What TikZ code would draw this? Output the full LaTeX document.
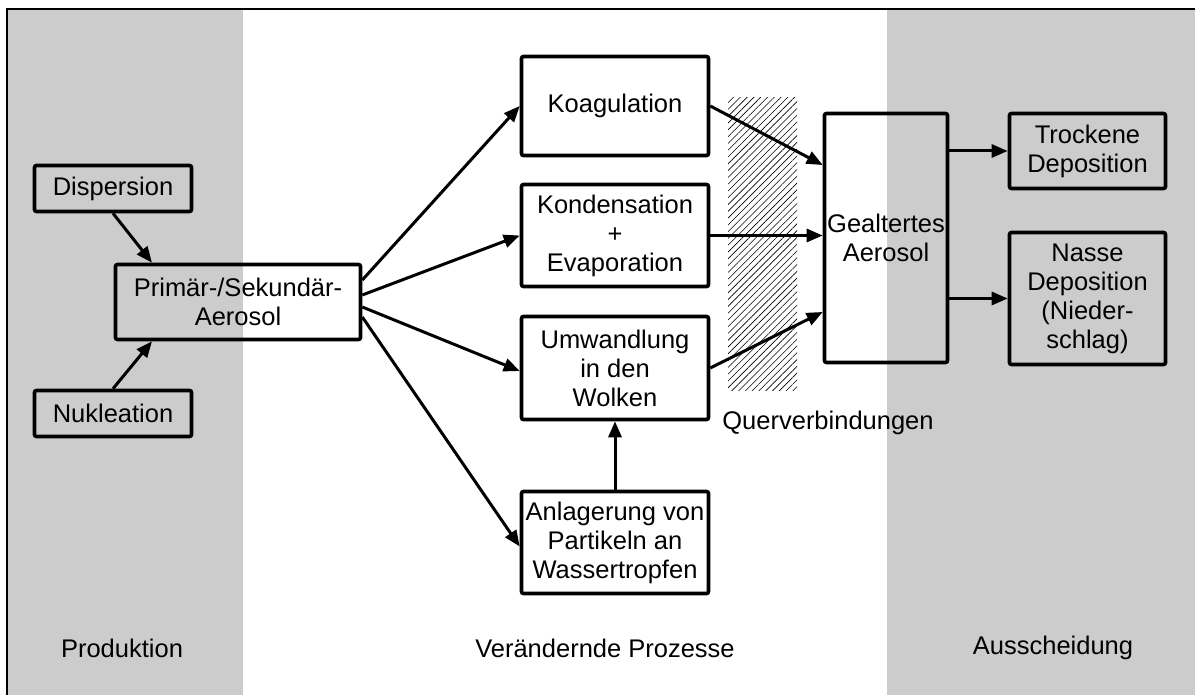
\documentclass[tikz,border=0pt]{standalone}
\usepackage{fontspec}
\setmainfont{Liberation Sans}
\usetikzlibrary{arrows.meta,patterns.meta}
\definecolor{band}{HTML}{CCCCCC}

\begin{document}
\begin{tikzpicture}[x=1pt,y=-1pt,
  txt/.style={font=\fontsize{25.5}{29}\selectfont},
  box/.style={txt, draw, line width=3.6pt, rounded corners=2pt, inner sep=0pt, align=center},
  conn/.style={line width=3pt, -{Triangle[length=16pt,width=13pt]}},
  bandtext/.style={txt, inner sep=0pt}
]
\useasboundingbox (0,0) rectangle (1195,695);

% background bands and frame
\fill[band] (7,9) rectangle (243,695);
\fill[band] (887,9) rectangle (1195,695);
\draw[line width=1.4pt] (7,695) -- (7,9) -- (1195,9);

% hatched zone of cross connections
\pattern[pattern={Lines[angle=45,distance=4.8pt,line width=0.6pt]}, pattern color=black]
  (728,98) rectangle (797,390);
\node[bandtext] (quer) at (828,423) {Querverbindungen};

% production
\node[box, minimum width=157pt, minimum height=46pt] (disp) at (113,188.5) {Dispersion};
\node[box, minimum width=157pt, minimum height=46pt] (nukl) at (113,413.5) {Nukleation};
\node[box, minimum width=245pt, minimum height=75pt] (prim) at (238,302) {Primär-/Sekundär-\\Aerosol};

% transforming processes
\node[box, minimum width=187pt, minimum height=99pt] (koag) at (615,106) {Koagulation};
\node[box, minimum width=187pt, minimum height=102pt] (kond) at (615,235.5) {Kondensation\\+\\Evaporation};
\node[box, minimum width=187pt, minimum height=103pt] (umw) at (615,368) {Umwandlung\\in den\\Wolken};
\node[box, minimum width=187pt, minimum height=102pt] (anl) at (615,542.5) {Anlagerung von\\Partikeln an\\Wassertropfen};

% removal
\node[box, minimum width=123pt, minimum height=249pt] (geal) at (886,238) {Gealtertes\\Aerosol};
\node[box, minimum width=156pt, minimum height=75pt] (trock) at (1087.5,151) {Trockene\\Deposition};
\node[box, minimum width=156pt, minimum height=132pt] (nasse) at (1087.5,298.5) {Nasse\\Deposition\\(Nieder-\\schlag)};

% connectors
\draw[conn] (disp.south) -- ([xshift=-86pt]prim.north);
\draw[conn] (nukl.north) -- ([xshift=-86pt]prim.south);

\draw[conn] ([yshift=22pt]prim.east) -- (koag.west);
\draw[conn] ([yshift=7pt]prim.east) -- (kond.west);
\draw[conn] ([yshift=-5pt]prim.east) -- ([yshift=-3pt]umw.west);
\draw[conn] ([yshift=-15pt]prim.east) -- ([yshift=-4pt]anl.west);

\draw[conn] (anl.north) -- (umw.south);

\draw[conn] (koag.east) -- ([yshift=73pt]geal.west);
\draw[conn] (kond.east) -- (kond.east -| geal.west);
\draw[conn] (umw.east) -- ([yshift=-74pt]geal.west);

\draw[conn] (geal.east |- trock.west) -- (trock.west);
\draw[conn] (geal.east |- nasse.west) -- (nasse.west);

% band captions
\node[bandtext] (prod) at (122,648) {Produktion};
\node[bandtext] (proz) at (605,648) {Verändernde Prozesse};
\node[bandtext] (aus) at (1053,648) {Ausscheidung};
\end{tikzpicture}
\end{document}
